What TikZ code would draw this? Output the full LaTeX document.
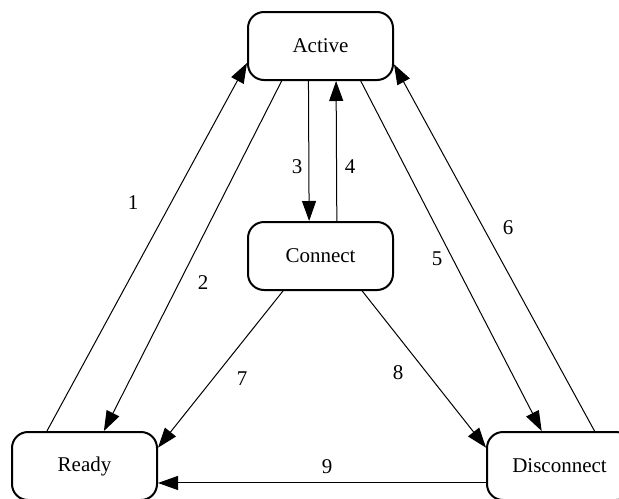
\documentclass[tikz,border=0pt]{standalone}
\usepackage{fontspec}
\setmainfont{Liberation Serif}
\usetikzlibrary{arrows.meta}
\newcommand{\lblfont}{\fontsize{10.5}{12}\selectfont}

\begin{document}
\begin{tikzpicture}[
    x=0.5pt,y=-0.5pt,
    state/.style={draw,line width=1pt,rounded corners=8pt,minimum width=72.5pt,minimum height=34pt,inner sep=0pt,font=\lblfont},
    edgelbl/.style={font=\lblfont,inner sep=0pt},
    arrow/.style={-{Triangle[length=10pt,width=7pt]},line width=0.5pt}
  ]
    \useasboundingbox (0,0) rectangle (619,498);
    \node[state] (active) at (320.5,46) {Active};
    \node[state] (connect) at (320.5,256) {Connect};
    \node[state] (ready) at (84.5,466) {Ready};
    \node[state] (disc) at (559.5,466) {Disconnect};
    \draw[arrow] (ready.137) -- (active.193) node[edgelbl] at (133,203) {1};
    \draw[arrow] (active.222) -- (ready.61.5) node[edgelbl] at (203,283) {2};
    \draw[arrow] (active.251.3) -- (connect.108.7) node[edgelbl] at (297,167) {3};
    \draw[arrow] (connect.65.5) -- (active.294.5) node[edgelbl] at (350,167) {4};
    \draw[arrow] (active.319) -- (disc.117) node[edgelbl] at (437,259) {5};
    \draw[arrow] (disc.45.4) -- (active.346.8) node[edgelbl] at (508,228) {6};
    \draw[arrow] (connect.223.8) -- (ready.14.7) node[edgelbl] at (242,379) {7};
    \draw[arrow] (connect.320.7) -- (disc.166) node[edgelbl] at (398,373) {8};
    \draw[arrow] (disc.193) -- (ready.347) node[edgelbl] at (327,467) {9};
  \end{tikzpicture}
\end{document}
